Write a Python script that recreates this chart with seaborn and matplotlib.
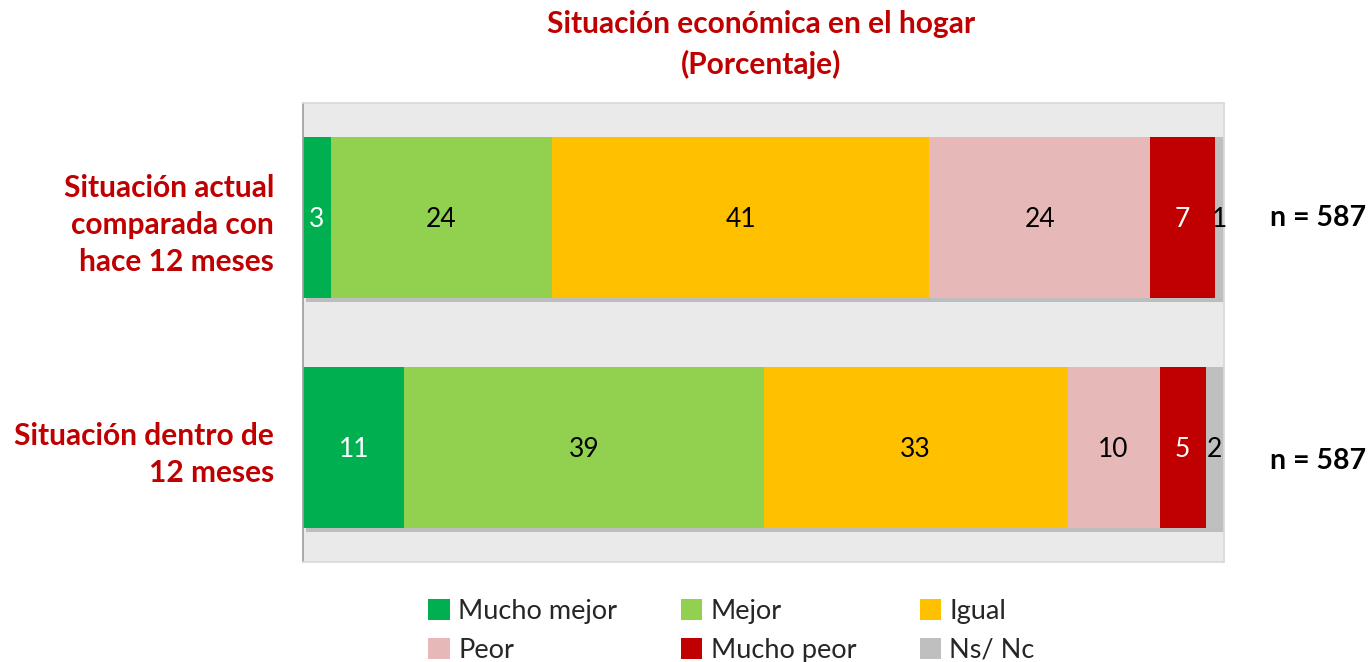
import matplotlib
matplotlib.use("Agg")
import matplotlib.pyplot as plt
import matplotlib.patheffects as pe
from matplotlib.patches import Patch
import numpy as np
import pandas as pd
import seaborn as sns

# datos
filas = ["Situación actual\ncomparada con\nhace 12 meses", "Situación dentro de\n12 meses"]
categorias = ["Mucho mejor", "Mejor", "Igual", "Peor", "Mucho peor", "Ns/ Nc"]
actual = [3, 24, 41, 24, 7, 1]
dentro = [11, 39, 33, 10, 5, 2]
n_textos = ["n = 587", "n = 587"]
colores = ["#00B050", "#92D050", "#FFC000", "#E6B8B7", "#C00000", "#BFBFBF"]
color_texto = ["white", "black", "black", "black", "white", "black"]
rojo = "#C00000"

sns.set_theme(style="white")
plt.rcParams['font.family'] = ['Lato', 'DejaVu Sans']

valores = np.array([actual, dentro])
acum = valores.cumsum(axis=1)

fig = plt.figure(figsize=(13.7, 6.62), dpi=100)
ax = fig.add_axes([0.2212, 0.1511, 0.6723, 0.6934])
ax.set_facecolor("#EAEAEA")

# barras apiladas: se dibuja la suma acumulada de mayor a menor
for j in reversed(range(len(categorias))):
    df = pd.DataFrame({"fila": filas, "valor": acum[:, j]})
    sns.barplot(data=df, x="valor", y="fila", orient="h", color=colores[j],
                width=0.7, saturation=1, linewidth=0, edgecolor="none", ax=ax, zorder=2)
    if j == len(categorias) - 1:
        for p in ax.patches:
            p.set_path_effects([pe.SimplePatchShadow(offset=(2, -3), alpha=0.25), pe.Normal()])

for i in range(len(filas)):
    for j in range(len(categorias)):
        xc = acum[i, j] - valores[i, j] / 2
        ax.text(xc, i + 0.01, str(valores[i, j]), ha="center", va="center",
                fontsize=19, color=color_texto[j], zorder=5)

ax.set_xlim(0, 100)
ax.set_ylim(1.5, -0.5)
ax.set_xlabel("")
ax.set_ylabel("")
ax.set_xticks([])
ax.tick_params(axis="y", length=0, pad=21)
ax.set_yticks(range(len(filas)))
ax.set_yticklabels(filas, fontsize=21.5, fontweight="bold", color=rojo, linespacing=1.4)
for s in ["top", "right", "bottom"]:
    ax.spines[s].set_color("#D9D9D9")
ax.spines["left"].set_color("#A0A0A0")

for i, t in enumerate(n_textos):
    ax.text(105, i + (0.06 if i == 1 else 0), t, ha="left", va="center",
            fontsize=20.5, fontweight="bold", color="black", clip_on=False)

fig.text(0.5555, 0.985, "Situación económica en el hogar\n(Porcentaje)", ha="center", va="top",
         fontsize=21.5, fontweight="bold", color=rojo, linespacing=1.5)

manijas = [Patch(facecolor=c, edgecolor="none") for c in colores]
orden = [0, 3, 1, 4, 2, 5]
fig.legend([manijas[k] for k in orden], [categorias[k] for k in orden], ncol=3,
           loc="lower center", bbox_to_anchor=(0.534, -0.038), frameon=False,
           fontsize=19.5, handlelength=0.8, handleheight=0.8, handletextpad=0.3,
           columnspacing=2.35, labelspacing=0.5)

fig.savefig("out.png", dpi=100)
